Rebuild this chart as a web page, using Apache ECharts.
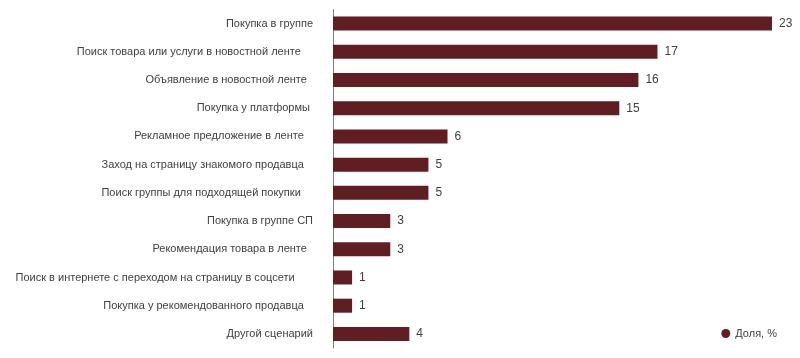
<!DOCTYPE html>
<html>
<head>
<meta charset="utf-8">
<script src="https://cdn.jsdelivr.net/npm/echarts@6/dist/echarts.min.js"></script>
<style>html,body{margin:0;padding:0;background:#fff;}#c{width:800px;height:358px;}</style>
</head>
<body>
<div id="c"></div>
<script>
var categories = [
  "Покупка в группе",
  "Поиск товара или услуги в новостной ленте    ",
  "Объявление в новостной ленте  ",
  "Покупка у платформы ",
  "Рекламное предложение в ленте   ",
  "Заход на страницу знакомого продавца   ",
  "Поиск группы для подходящей покупки    ",
  "Покупка в группе СП",
  "Рекомендация товара в ленте  ",
  "Поиск в интернете с переходом на страницу в соцсети      ",
  "Покупка у рекомендованного продавца   ",
  "Другой сценарий"
];
var values = [23, 17, 16, 15, 6, 5, 5, 3, 3, 1, 1, 4];
var seriesName = "Доля, %";

var chart = echarts.init(document.getElementById('c'), null, {renderer: 'canvas'});
chart.setOption({
  animation: false,
  grid: {left: 333, right: 28, top: 9.5, bottom: 10, containLabel: false},
  legend: {
    data: [{name: seriesName, icon: 'circle'}],
    right: 18, top: 323, itemWidth: 9, itemHeight: 9, itemGap: 10,
    textStyle: {fontFamily: 'Liberation Sans, Arial', fontSize: 11, color: '#404040'}
  },
  xAxis: {
    type: 'value', min: 0, max: 23, show: false,
    splitLine: {show: false}
  },
  yAxis: {
    type: 'category', inverse: true, data: categories,
    axisLine: {show: true, lineStyle: {color: '#7f7f7f', width: 1}},
    axisTick: {show: false},
    axisLabel: {margin: 20, fontFamily: 'Liberation Sans, Arial', fontSize: 11, color: '#404040'}
  },
  series: [{
    name: seriesName, type: 'bar', data: values,
    barWidth: 14,
    itemStyle: {color: '#611e22'},
    label: {show: true, position: 'right', distance: 7, fontFamily: 'Liberation Sans, Arial', fontSize: 12, color: '#404040'}
  }]
});
</script>
</body>
</html>
